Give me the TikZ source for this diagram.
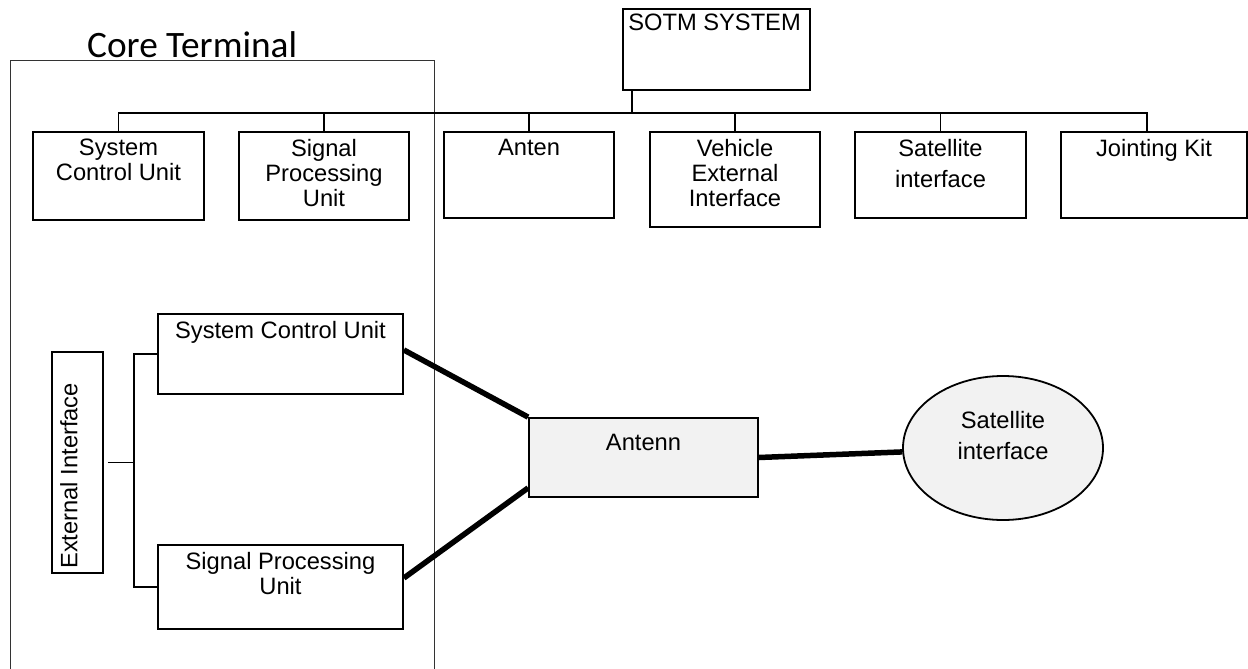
\documentclass[tikz,border=0pt]{standalone}
\usepackage{fontspec}
\setmainfont{Liberation Sans}
\newfontfamily\carlito{Carlito}
\usetikzlibrary{shapes.geometric}
\begin{document}
\begin{tikzpicture}[x=1pt,y=-1pt,
  unitbox/.style={draw,line width=1.8pt,inner sep=0pt},
  txt/.style={font=\fontsize{23.7}{25}\selectfont,align=center,inner sep=0pt},
  toptxt/.style={txt,anchor=north,yshift=-8pt},
  conn/.style={line width=1.7pt},
  thickline/.style={line width=5.5pt}]
  \useasboundingbox (0,0) rectangle (1248,669);
  % core terminal frame
  \draw[line width=1pt,black!80] (10,690) |- (434,61) -- (434,690);
  \node[anchor=base west,inner sep=0pt,font=\carlito\fontsize{37.3}{40}\selectfont] (coretitle) at (87,58) {Core Terminal};
  % system tree
  \node[unitbox,minimum width=187pt,minimum height=81pt,
    label={[txt,anchor=north west,xshift=6pt,yshift=-6pt]north west:SOTM SYSTEM}] (sotm) at (716.5,49.5) {};
  \foreach \nm/\x/\w/\h/\txt in {scu/118.5/171/88/{System\\Control Unit},
    spu/324/170/88/{Signal\\Processing\\Unit}, anten/529/170/86/{Anten},
    vehicle/735/170/95/{Vehicle\\External\\Interface},
    satif/940.5/171/86/{Satellite\\[6pt]interface}, jkit/1154/186/86/{Jointing Kit}}
    \node[unitbox,anchor=north,minimum width=\w pt,minimum height=\h pt,
      label={[toptxt]north:\txt}] (\nm) at (\x,131) {};
  \coordinate (bus) at (632,113);
  \draw[conn] (sotm.south -| bus) -- (bus);
  \foreach \nm in {scu,spu,anten,vehicle,satif}
    \draw[conn] (bus) -| (\nm.north);
  \draw[conn] (bus) -| ([xshift=-7pt]jkit.north);
  % core terminal parts
  \node[unitbox,minimum width=51pt,minimum height=221pt] (extif) at (77.5,462.5) {};
  \node[txt,rotate=90,anchor=north west] (extiftxt) at ([xshift=9pt,yshift=5pt]extif.south west) {External Interface};
  \node[unitbox,minimum width=245pt,minimum height=80pt,
    label={[toptxt]north:System Control Unit}] (scub) at (280.5,354) {};
  \node[unitbox,minimum width=245pt,minimum height=84pt,
    label={[toptxt]north:Signal Processing\\Unit}] (spub) at (280.5,587) {};
  \coordinate (fork) at ([xshift=30pt]extif.east);
  \draw[conn] ([xshift=4pt]extif.east) -- (fork);
  \draw[conn] (scub.west) -| (fork) |- (spub.west);
  % antenna and satellite
  \node[unitbox,fill=black!5,minimum width=229pt,minimum height=79pt,
    label={[toptxt,yshift=-9pt]north:Antenn}] (antenn) at (643.5,457.5) {};
  \node[draw,ellipse,line width=1.8pt,fill=black!5,minimum width=200pt,minimum height=144pt,inner sep=0pt,
    label={[txt,yshift=12pt]center:Satellite\\[6pt]interface}] (satb) at (1003,448) {};
  \draw[thickline] ([yshift=4pt]scub.east) -- (antenn.north west);
  \draw[thickline] ([yshift=9pt]spub.east) -- ([yshift=10pt]antenn.south west);
  \draw[thickline] (antenn.east) -- (satb);
\end{tikzpicture}
\end{document}
